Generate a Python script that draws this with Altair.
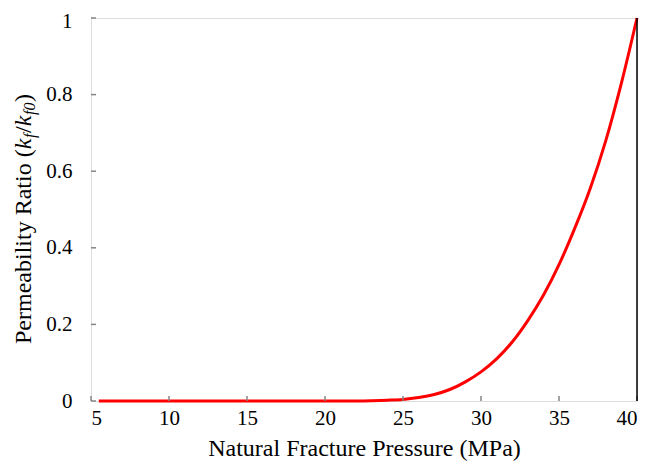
import altair as alt
import pandas as pd

# ---- data ----
pressure = [5.5, 10, 15, 20, 22, 23, 24, 25, 26, 27, 28, 29, 30, 31, 32, 33, 34, 35, 36, 37, 38, 39, 40]
ratio = [0, 0, 0, 0, 0.0002, 0.0008, 0.002, 0.004, 0.009, 0.017, 0.030, 0.050, 0.076, 0.11, 0.154,
         0.21, 0.276, 0.356, 0.45, 0.555, 0.68, 0.83, 1.0]
x_ticks = [5, 10, 15, 20, 25, 30, 35, 40]
y_ticks = [0, 0.2, 0.4, 0.6, 0.8, 1.0]

W, H = 546, 383
FONT = "Liberation Serif"
GRAY = "#858585"

df = pd.DataFrame({"p": pressure, "r": ratio})

xs = alt.Scale(domain=[5, 40], nice=False)
ys = alt.Scale(domain=[0, 1], nice=False)

line = alt.Chart(df).mark_line(color="#ff0000", strokeWidth=3, interpolate="monotone").encode(
    x=alt.X("p:Q", scale=xs,
            axis=alt.Axis(values=x_ticks, title="Natural Fracture Pressure (MPa)", ticks=False, tickSize=0,
                          domain=False, grid=False, labelFont=FONT, labelFontSize=21, labelColor="black",
                          labelPadding=6, labelOverlap=False, titleFont=FONT, titleFontSize=24,
                          titleFontWeight="normal", titleColor="black", titleBaseline="alphabetic",
                          titleY=54)),
    y=alt.Y("r:Q", scale=ys,
            axis=alt.Axis(values=y_ticks, title=None, format=".1~f", ticks=False, tickSize=0,
                          domain=False, grid=False, labelFont=FONT, labelFontSize=21, labelColor="black",
                          labelPadding=19, labelOverlap=False,
                          labelOffset={"condition": {"test": "datum.value == 1", "value": 3}, "value": 0})),
)

xt = alt.Chart(pd.DataFrame({"t": x_ticks})).mark_rule(color=GRAY, strokeWidth=1.5).encode(
    x=alt.X("t:Q", scale=xs), y=alt.value(H), y2=alt.value(H - 5))
yt = alt.Chart(pd.DataFrame({"t": y_ticks})).mark_rule(color=GRAY, strokeWidth=1.5).encode(
    y=alt.Y("t:Q", scale=ys), x=alt.value(0), x2=alt.value(5))
right = alt.Chart(pd.DataFrame({"a": [0]})).mark_rule(color="black", strokeWidth=1.5).encode(
    x=alt.value(W), y=alt.value(0), y2=alt.value(H))

# y-axis title built from pieces (italic k, subscripts)
pieces = [
    ("Permeability Ratio (", "normal", 24, -60, 326),
    ("k", "italic", 24, -60, 131.3),
    ("f", "italic", 16, -56, 120),
    ("/", "normal", 24, -60, 115),
    ("k", "italic", 24, -60, 108.3),
    ("f0", "italic", 16, -56, 97),
    (")", "normal", 24, -60, 84),
]
title_layers = []
for txt, style, size, px, py in pieces:
    title_layers.append(
        alt.Chart(pd.DataFrame({"s": [txt]})).mark_text(
            font=FONT, fontStyle=style, fontSize=size, angle=270, align="left",
            baseline="alphabetic", color="black"
        ).encode(x=alt.value(px), y=alt.value(py), text="s:N")
    )

chart = alt.layer(line, xt, yt, right, *title_layers).properties(
    width=W, height=H,
    autosize=alt.AutoSizeParams(type="none"),
    padding={"left": 83, "top": 10, "right": 9, "bottom": 60},
).configure_view(stroke=GRAY, strokeWidth=2).configure(background="white")

chart.save("out.html", embed_options={"renderer": "svg", "actions": False})
